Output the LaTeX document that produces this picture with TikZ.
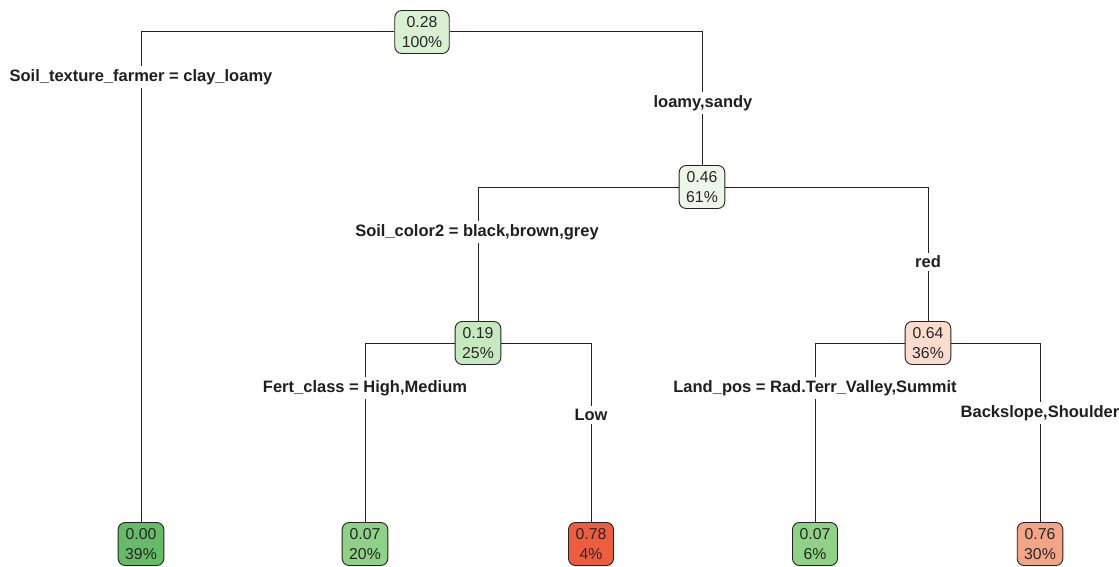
\documentclass[tikz,border=0pt]{standalone}
\usepackage{fontspec}
\setmainfont{Liberation Sans}
\definecolor{cA}{RGB}{217,240,211}
\definecolor{cB}{RGB}{238,246,234}
\definecolor{cC}{RGB}{199,233,192}
\definecolor{cD}{RGB}{252,220,205}
\definecolor{cE}{RGB}{102,187,102}
\definecolor{cF}{RGB}{143,210,135}
\definecolor{cG}{RGB}{240,92,62}
\definecolor{cH}{RGB}{245,165,135}
\definecolor{ln}{RGB}{35,35,35}
\tikzset{
  tn/.style={draw=ln, line width=0.9pt, rounded corners=7pt, align=center,
    font=\fontsize{15.8}{20}\selectfont, text=black!85, inner xsep=7pt, inner ysep=2pt,
    minimum height=43pt, minimum width=45pt},
  lab/.style={font=\bfseries\fontsize{16.5}{19}\selectfont, fill=white, inner xsep=1pt, inner ysep=3pt, text=black!88},
  edge/.style={draw=ln, line width=1pt}
}
\begin{document}
\begin{tikzpicture}[x=1pt,y=-1pt]
\useasboundingbox (0,0) rectangle (1119,567);
% nodes
\node[tn, fill=cA] (n1) at (422,32) {0.28\\100\%};
\node[tn, fill=cB] (n2) at (702,187) {0.46\\61\%};
\node[tn, fill=cC] (n3) at (478,343) {0.19\\25\%};
\node[tn, fill=cD] (n4) at (928,343) {0.64\\36\%};
\node[tn, fill=cE] (l1) at (141,544) {0.00\\39\%};
\node[tn, fill=cF] (l2) at (365,544) {0.07\\20\%};
\node[tn, fill=cG] (l3) at (591,544) {0.78\\4\%};
\node[tn, fill=cF] (l4) at (815,544) {0.07\\6\%};
\node[tn, fill=cH] (l5) at (1040,544) {0.76\\30\%};
% edges
\draw[edge] (n1.west) -| (l1.north);
\draw[edge] (n1.east) -| (n2.north);
\draw[edge] (n2.west) -| (n3.north);
\draw[edge] (n2.east) -| (n4.north);
\draw[edge] (n3.west) -| (l2.north);
\draw[edge] (n3.east) -| (l3.north);
\draw[edge] (n4.west) -| (l4.north);
\draw[edge] (n4.east) -| (l5.north);
% labels
\node[lab] (t1) at (141,77) {Soil\_texture\_farmer = clay\_loamy};
\node[lab] (t2) at (703,103) {loamy,sandy};
\node[lab] (t3) at (477,232) {Soil\_color2 = black,brown,grey};
\node[lab] (t4) at (928,262) {red};
\node[lab] (t5) at (365,388) {Fert\_class = High,Medium};
\node[lab] (t6) at (591,415) {Low};
\node[lab] (t7) at (815,388) {Land\_pos = Rad.Terr\_Valley,Summit};
\node[lab] (t8) at (1040,413) {Backslope,Shoulder};
\end{tikzpicture}
\end{document}
